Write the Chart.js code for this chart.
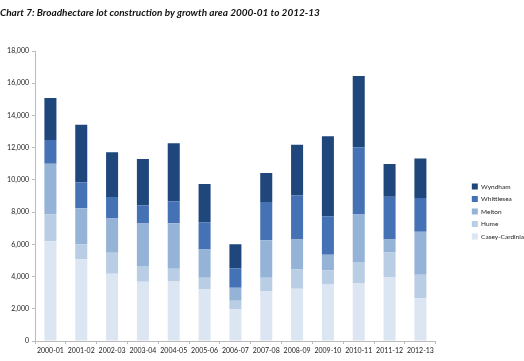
<!DOCTYPE html>
<html>
<head>
<meta charset="utf-8">
<script src="https://cdn.jsdelivr.net/npm/chart.js@4"></script>
<style>
  html, body { margin: 0; padding: 0; background: #fff; }
  #wrap { width: 524px; height: 361px; }
</style>
</head>
<body>
<div id="wrap"><canvas id="chart" width="524" height="361"></canvas></div>
<script>
const years = ['2000-01', '2001-02', '2002-03', '2003-04', '2004-05', '2005-06', '2006-07',
    '2007-08', '2008-09', '2009-10', '2010-11', '2011-12', '2012-13'];

// lots per growth area
const caseyCardinia = [6190, 5080, 4170, 3670, 3700, 3220, 1980, 3100, 3240, 3510, 3570, 3980, 2660];
const hume          = [1670,  910, 1300,  990,  780,  700,  520,  820, 1200,  870, 1340, 1510, 1450];
const melton        = [3140, 2250, 2130, 2630, 2830, 1760,  800, 2330, 1860,  970, 2940,  810, 2670];
const whittlesea    = [1470, 1610, 1340, 1130, 1360, 1690, 1220, 2380, 2740, 2390, 4180, 2660, 2090];
const wyndham       = [2620, 3570, 2780, 2870, 3610, 2370, 1490, 1790, 3140, 4970, 4420, 2020, 2460];

const seriesNames = ['Casey-Cardinia', 'Hume', 'Melton', 'Whittlesea', 'Wyndham'];
const seriesData = [caseyCardinia, hume, melton, whittlesea, wyndham];
const seriesColors = ['#DCE6F2', '#B9CDE5', '#95B3D7', '#4472B4', '#1F477B'];

const FONT = 'Lato, "Open Sans", sans-serif';

const ctx = document.getElementById('chart').getContext('2d');
new Chart(ctx, {
    type: 'bar',
    data: {
        labels: years,
        datasets: seriesNames.map((name, i) => ({
            label: name,
            data: seriesData[i],
            backgroundColor: seriesColors[i],
            borderWidth: 0,
            barPercentage: 0.39,
            categoryPercentage: 1
        }))
    },
    options: {
        responsive: false,
        animation: false,
        layout: { padding: { left: 0, right: -10, top: 0, bottom: 0 } },
        plugins: {
            tooltip: { enabled: false },
            title: {
                display: true,
                text: 'Chart 7: Broadhectare lot construction by growth area 2000-01 to 2012-13',
                align: 'start',
                color: '#111',
                font: { family: FONT, size: 10, weight: 'bold', style: 'italic' },
                padding: { top: 7, bottom: 32, left: 9 }
            },
            legend: {
                position: 'right',
                align: 'center',
                reverse: true,
                title: { display: true, text: '', font: { size: 10 }, padding: 25 },
                labels: {
                    boxWidth: 6,
                    boxHeight: 6,
                    padding: 6,
                    color: '#222',
                    font: { family: FONT, size: 6.5 }
                }
            }
        },
        scales: {
            x: {
                stacked: true,
                afterFit: s => { s.height = 20; },
                border: { color: '#bbb' },
                grid: { drawOnChartArea: false, tickLength: 3, color: '#bbb' },
                ticks: { padding: 3, color: '#222', font: { family: FONT, size: 7 }, maxRotation: 0, autoSkip: false }
            },
            y: {
                stacked: true,
                min: 0,
                max: 18000,
                afterFit: s => { s.width = 35; },
                border: { color: '#bbb' },
                grid: { drawOnChartArea: false, tickLength: 3, color: '#bbb' },
                ticks: {
                    stepSize: 2000,
                    padding: 3,
                    color: '#222',
                    font: { family: FONT, size: 7 },
                    callback: v => v.toLocaleString('en-US')
                }
            },
            // empty axis that only keeps a gap between the plot and the legend
            gap: {
                type: 'linear',
                position: 'right',
                display: true,
                afterFit: s => { s.width = 30; },
                border: { display: false },
                grid: { display: false },
                ticks: { display: false }
            }
        }
    }
});
</script>
</body>
</html>
